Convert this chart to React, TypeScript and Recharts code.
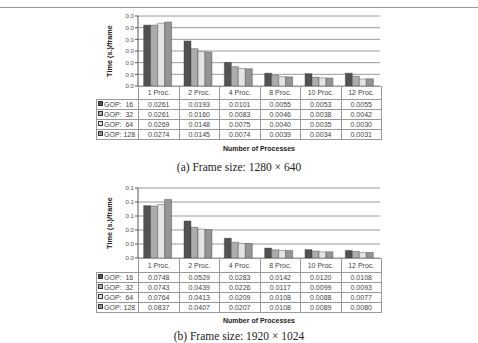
import { BarChart, Bar, XAxis, YAxis, CartesianGrid } from 'recharts'

const categories = ['1 Proc.', '2 Proc.', '4 Proc.', '8 Proc.', '10 Proc.', '12 Proc.']
const gopLabels = ['GOP:  16', 'GOP:  32', 'GOP:  64', 'GOP: 128']
const gopColors = ['#525252', '#acacac', '#e4e4e4', '#959595']

// (a) 1280 x 640
const smallGop16 = [0.0261, 0.0193, 0.0101, 0.0055, 0.0053, 0.0055]
const smallGop32 = [0.0261, 0.016, 0.0083, 0.0046, 0.0038, 0.0042]
const smallGop64 = [0.0269, 0.0148, 0.0075, 0.004, 0.0035, 0.003]
const smallGop128 = [0.0274, 0.0145, 0.0074, 0.0039, 0.0034, 0.0031]
const smallTicks = [0, 0.005, 0.01, 0.015, 0.02, 0.025, 0.03]

// (b) 1920 x 1024
const largeGop16 = [0.0748, 0.0529, 0.0283, 0.0142, 0.012, 0.0108]
const largeGop32 = [0.0743, 0.0439, 0.0226, 0.0117, 0.0099, 0.0093]
const largeGop64 = [0.0764, 0.0413, 0.0209, 0.0108, 0.0088, 0.0077]
const largeGop128 = [0.0837, 0.0407, 0.0207, 0.0108, 0.0089, 0.008]
const largeTicks = [0, 0.02, 0.04, 0.06, 0.08, 0.1]

const keys = ['g16', 'g32', 'g64', 'g128']
const sans = "'Liberation Sans', Arial, sans-serif"

interface PanelProps {
  top: number
  series: number[][]
  ticks: number[]
  caption: string
  headerH: number
  rowH: number
  titleTop: number
  captionTop: number
}

function Panel({ top, series, ticks, caption, headerH, rowH, titleTop, captionTop }: PanelProps) {
  const data = categories.map((cat, i) => {
    const row: Record<string, string | number> = { cat }
    keys.forEach((k, s) => (row[k] = series[s][i]))
    return row
  })
  const cell = {
    border: '1px solid #9a9a9a',
    padding: 0,
    textAlign: 'center' as const,
    color: '#444',
  }
  return (
    <div style={{ position: 'absolute', left: 0, top, width: 478, height: 170 }}>
      <BarChart
        width={478}
        height={88}
        data={data}
        margin={{ top: 16, right: 98, bottom: 2, left: 0 }}
        barCategoryGap="14%"
        barGap={0}
      >
        <CartesianGrid yAxisId="l" vertical={false} stroke="#9a9a9a" />
        <XAxis dataKey="cat" height={0} tick={false} tickLine={false} axisLine={{ stroke: '#333' }} />
        <YAxis
          yAxisId="l"
          width={138}
          domain={[0, ticks[ticks.length - 1]]}
          ticks={ticks}
          interval={0}
          tickFormatter={(v: number) => v.toFixed(1)}
          tickSize={3}
          tickMargin={1}
          tick={{ fontSize: 6.2, fill: '#555', fontFamily: sans }}
          axisLine={{ stroke: '#555' }}
          tickLine={{ stroke: '#555' }}
        />
        <YAxis
          yAxisId="r"
          orientation="right"
          width={0}
          domain={[0, ticks[ticks.length - 1]]}
          tick={false}
          tickLine={false}
          axisLine={{ stroke: '#9a9a9a' }}
        />
        {keys.map((k, s) => (
          <Bar
            key={k}
            yAxisId="l"
            dataKey={k}
            fill={gopColors[s]}
            stroke="#3a3a3a"
            strokeWidth={0.4}
            isAnimationActive={false}
          />
        ))}
      </BarChart>
      <div
        style={{
          position: 'absolute',
          left: 110 - 40,
          top: 51 - 5,
          width: 80,
          textAlign: 'center',
          transform: 'rotate(-90deg)',
          fontFamily: sans,
          fontSize: 7.3,
          fontWeight: 'bold',
          color: '#222',
          lineHeight: '10px',
        }}
      >
        Time (s.)/frame
      </div>
      <table
        style={{
          position: 'absolute',
          left: 96,
          top: 86,
          width: 285,
          borderCollapse: 'collapse',
          tableLayout: 'fixed',
          fontFamily: sans,
          fontSize: 7,
          lineHeight: '8px',
        }}
      >
        <colgroup>
          <col style={{ width: 42 }} />
          {categories.map((c) => (
            <col key={c} style={{ width: 40.5 }} />
          ))}
        </colgroup>
        <tbody>
          <tr style={{ height: headerH }}>
            <td style={{ border: 'none', padding: 0 }} />
            {categories.map((c) => (
              <td key={c} style={cell}>
                {c}
              </td>
            ))}
          </tr>
          {gopLabels.map((g, s) => (
            <tr key={g} style={{ height: rowH }}>
              <td style={{ ...cell, textAlign: 'left', whiteSpace: 'pre', paddingLeft: 1 }}>
                <span
                  style={{
                    display: 'inline-block',
                    width: 5,
                    height: 5,
                    boxSizing: 'border-box',
                    background: gopColors[s],
                    border: '0.5px solid #333',
                    marginRight: 1,
                    verticalAlign: 'middle',
                    position: 'relative',
                    top: -1,
                  }}
                />
                {g}
              </td>
              {series[s].map((v, i) => (
                <td key={i} style={cell}>
                  {v.toFixed(4)}
                </td>
              ))}
            </tr>
          ))}
        </tbody>
      </table>
      <div
        style={{
          position: 'absolute',
          left: 138,
          width: 242,
          top: titleTop - 5,
          textAlign: 'center',
          fontFamily: sans,
          fontSize: 7,
          fontWeight: 'bold',
          color: '#222',
          lineHeight: '10px',
        }}
      >
        Number of Processes
      </div>
      <div
        style={{
          position: 'absolute',
          left: 0,
          width: 478,
          top: captionTop - 7,
          textAlign: 'center',
          fontFamily: "'Liberation Serif', serif",
          fontSize: 11.5,
          color: '#222',
          lineHeight: '14px',
        }}
      >
        {caption}
      </div>
    </div>
  )
}

export default function App() {
  return (
    <div style={{ position: 'absolute', left: 0, top: 0, width: 478, height: 343, background: '#fff' }}>
      <div style={{ position: 'absolute', left: 0, top: 7, width: 478, height: 1, background: '#999' }} />
      <Panel
        top={0}
        series={[smallGop16, smallGop32, smallGop64, smallGop128]}
        ticks={smallTicks}
        caption="(a)  Frame size: 1280 × 640"
        headerH={13}
        rowH={10}
        titleTop={149}
        captionTop={167}
      />
      <Panel
        top={172}
        series={[largeGop16, largeGop32, largeGop64, largeGop128]}
        ticks={largeTicks}
        caption="(b)  Frame size: 1920 × 1024"
        headerH={14}
        rowH={10}
        titleTop={149}
        captionTop={164}
      />
    </div>
  )
}
